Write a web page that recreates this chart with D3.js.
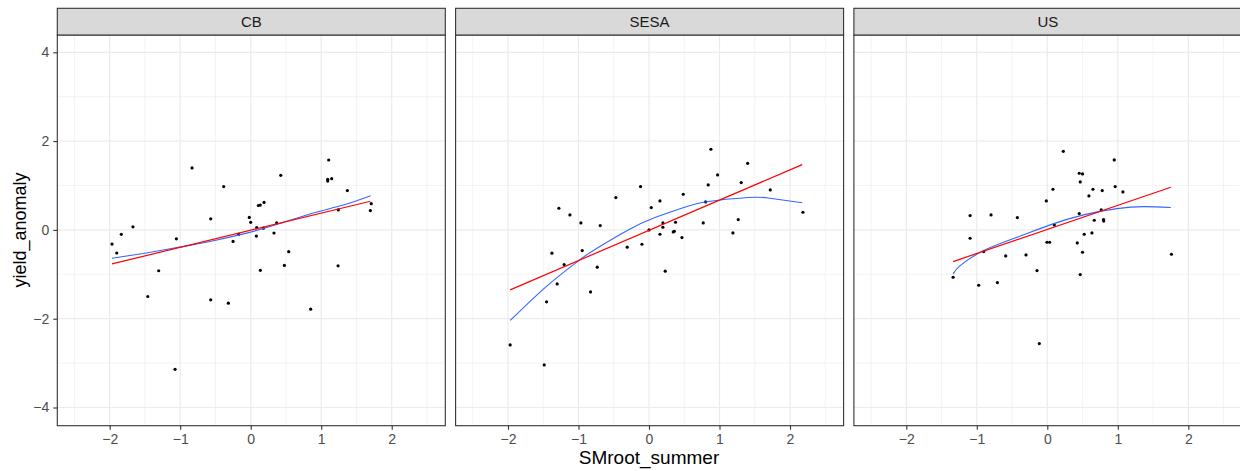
<!DOCTYPE html>
<html>
<head>
<meta charset="utf-8">
<script src="https://cdn.jsdelivr.net/npm/d3@7"></script>
<style>
  body { margin: 0; background: #fff; }
  svg { display: block; font-family: "Liberation Sans", Arial, sans-serif; }
</style>
</head>
<body>
<svg id="chart" width="1240" height="471"></svg>
<script>
// facet names
const facets = ["CB", "SESA", "US"];

// points
const cbX = [-1.967, -1.90, -1.835, -1.67, -1.46, -1.305, -1.073, -1.054, -0.832, -0.567, -0.567, -0.383, -0.317, -0.25, -0.17,
  -0.02, 0.0, 0.085, 0.08, 0.108, 0.136, 0.137, 0.189, 0.18, 0.33, 0.368, 0.426, 0.478, 0.539, 0.851,
  1.092, 1.092, 1.149, 1.106, 1.243, 1.239, 1.371, 1.697, 1.71];
const cbY = [-0.32, -0.52, -0.10, 0.07, -1.50, -0.92, -3.14, -0.20, 1.395, 0.25, -1.575, 0.975, -1.65, -0.26, -0.10,
  0.28, 0.17, 0.05, -0.14, 0.55, 0.56, -0.91, 0.62, 0.04, -0.07, 0.158, 1.23, -0.80, -0.49, -1.785,
  1.14, 1.10, 1.155, 1.575, 0.45, -0.81, 0.885, 0.435, 0.59];

const sesaX = [-1.969, -1.486, -1.453, -1.377, -1.302, -1.278, -1.203, -1.122, -0.966, -0.947, -0.829, -0.734, -0.692,
  -0.47, -0.309, -0.12, -0.10, 0.0, 0.032, 0.155, 0.155, 0.197, 0.197, 0.23, 0.344, 0.36, 0.377, 0.467, 0.486,
  0.769, 0.803, 0.84, 0.878, 0.973, 1.19, 1.266, 1.308, 1.399, 1.72, 2.183];
const sesaY = [-2.59, -3.04, -1.62, -0.525, -1.216, 0.488, -0.78, 0.338, 0.158, -0.465, -1.396, -0.84, 0.098,
  0.728, -0.39, 0.976, -0.323, 0.0, 0.503, 0.653, -0.098, 0.158, 0.06, -0.93, -0.045, -0.03, 0.173, -0.173, 0.803,
  0.158, 0.63, 1.013, 1.817, 1.239, -0.068, 0.233, 1.066, 1.50, 0.90, 0.398];

const usX = [-1.336, -1.095, -1.095, -0.973, -0.902, -0.798, -0.708, -0.59, -0.425, -0.302, -0.146, -0.113, -0.014,
  -0.005, 0.033, 0.08, 0.099, 0.227, 0.425, 0.453, 0.453, 0.5, 0.467, 0.467, 0.5, 0.524, 0.59, 0.633, 0.647,
  0.666, 0.765, 0.779, 0.798, 0.80, 0.949, 0.963, 1.072, 1.761];
const usY = [-1.066, 0.323, -0.188, -1.246, -0.488, 0.338, -1.186, -0.586, 0.278, -0.563, -0.916, -2.56, 0.653,
  -0.278, -0.278, 0.916, 0.113, 1.77, -0.293, 0.368, 1.276, 1.261, 1.081, -1.006, -0.503, -0.098, 0.766, -0.068, 0.916,
  0.218, 0.45, 0.886, 0.233, 0.20, 1.577, 0.976, 0.856, -0.548];

// blue smooth curves
const cbSmoothX = [-1.967, -1.523, -1.05, -0.577, -0.105, 0.368, 0.84, 1.313, 1.70];
const cbSmoothY = [-0.64, -0.53, -0.40, -0.26, -0.09, 0.12, 0.36, 0.56, 0.77];
const sesaSmoothX = [-1.969, -1.453, -1.004, -0.767, -0.295, 0.084, 0.462, 0.84, 1.407, 1.69, 2.173];
const sesaSmoothY = [-2.04, -1.27, -0.70, -0.44, 0.0, 0.28, 0.49, 0.64, 0.73, 0.72, 0.61];
const usSmoothX = [-1.336, -1.232, -0.902, -0.43, 0.042, 0.514, 0.987, 1.364, 1.752];
const usSmoothY = [-0.99, -0.80, -0.465, -0.165, 0.113, 0.338, 0.48, 0.525, 0.503];

// red linear fits (end points)
const cbLmX = [-1.967, 1.697], cbLmY = [-0.765, 0.645];
const sesaLmX = [-1.969, 2.173], sesaLmY = [-1.351, 1.471];
const usLmX = [-1.336, 1.752], usLmY = [-0.713, 0.961];

const xTicks = [-2, -1, 0, 1, 2];
const xMinor = [-2.5, -1.5, -0.5, 0.5, 1.5, 2.5];
const yTicks = [-4, -2, 0, 2, 4];
const yMinor = [-3, -1, 1, 3];

const panelData = [
  {pts: [cbX, cbY], smooth: [cbSmoothX, cbSmoothY], lm: [cbLmX, cbLmY]},
  {pts: [sesaX, sesaY], smooth: [sesaSmoothX, sesaSmoothY], lm: [sesaLmX, sesaLmY]},
  {pts: [usX, usY], smooth: [usSmoothX, usSmoothY], lm: [usLmX, usLmY]}
];

const left0 = 57.3, panelW = 388, gap = 10.3;
const stripTop = 8.3, panelTop = 35, panelBottom = 425.7;

const svg = d3.select("#chart");
const x = d3.scaleLinear().domain([-2.743, 2.76]).range([0, panelW]);
const y = d3.scaleLinear().domain([-4.41, 4.39]).range([panelBottom, panelTop]);

const zip = (a, b) => a.map((v, i) => [v, b[i]]);

facets.forEach((name, i) => {
  const g = svg.append("g").attr("transform", `translate(${left0 + i * (panelW + gap)},0)`);
  const d = panelData[i];

  // grid
  g.selectAll(".xminor").data(xMinor).join("line")
    .attr("x1", v => x(v)).attr("x2", v => x(v)).attr("y1", panelTop).attr("y2", panelBottom)
    .attr("stroke", "#ebebeb").attr("stroke-width", 0.6);
  g.selectAll(".yminor").data(yMinor).join("line")
    .attr("x1", 0).attr("x2", panelW).attr("y1", v => y(v)).attr("y2", v => y(v))
    .attr("stroke", "#ebebeb").attr("stroke-width", 0.6);
  g.selectAll(".xmajor").data(xTicks).join("line")
    .attr("x1", v => x(v)).attr("x2", v => x(v)).attr("y1", panelTop).attr("y2", panelBottom)
    .attr("stroke", "#ebebeb").attr("stroke-width", 1.2);
  g.selectAll(".ymajor").data(yTicks).join("line")
    .attr("x1", 0).attr("x2", panelW).attr("y1", v => y(v)).attr("y2", v => y(v))
    .attr("stroke", "#ebebeb").attr("stroke-width", 1.2);

  // points
  g.selectAll("circle").data(zip(d.pts[0], d.pts[1])).join("circle")
    .attr("cx", p => x(p[0])).attr("cy", p => y(p[1])).attr("r", 1.6).attr("fill", "#000");

  // smooth (blue) and linear (red) fits
  g.append("path").datum(zip(d.smooth[0], d.smooth[1]))
    .attr("d", d3.line().x(p => x(p[0])).y(p => y(p[1])).curve(d3.curveNatural))
    .attr("fill", "none").attr("stroke", "#3366ff").attr("stroke-width", 1.1);
  g.append("path").datum(zip(d.lm[0], d.lm[1]))
    .attr("d", d3.line().x(p => x(p[0])).y(p => y(p[1])))
    .attr("fill", "none").attr("stroke", "#ff0000").attr("stroke-width", 1.2);

  // panel border
  g.append("rect").attr("x", 0).attr("y", panelTop).attr("width", panelW).attr("height", panelBottom - panelTop)
    .attr("fill", "none").attr("stroke", "#333333").attr("stroke-width", 1.1);

  // strip
  g.append("rect").attr("x", 0).attr("y", stripTop).attr("width", panelW).attr("height", panelTop - stripTop)
    .attr("fill", "#d9d9d9").attr("stroke", "#333333").attr("stroke-width", 1.1);
  g.append("text").attr("x", panelW / 2).attr("y", (stripTop + panelTop) / 2)
    .attr("text-anchor", "middle").attr("dominant-baseline", "central")
    .attr("font-size", 15).attr("fill", "#1a1a1a").text(name);

  // x axis
  const xa = g.append("g").attr("transform", `translate(0,${panelBottom})`)
    .call(d3.axisBottom(x).tickValues(xTicks).tickSize(4).tickPadding(4).tickFormat(d3.format("d")));
  xa.select(".domain").remove();
  xa.selectAll("line").attr("stroke", "#333333").attr("stroke-width", 1.1);
  xa.selectAll("text").attr("fill", "#4d4d4d").attr("font-size", 14).style("font-family", "inherit");

  if (i === 0) {
    const ya = g.append("g")
      .call(d3.axisLeft(y).tickValues(yTicks).tickSize(4).tickPadding(4).tickFormat(d3.format("d")));
    ya.select(".domain").remove();
    ya.selectAll("line").attr("stroke", "#333333").attr("stroke-width", 1.1);
    ya.selectAll("text").attr("fill", "#4d4d4d").attr("font-size", 14).style("font-family", "inherit");
  }
});

// axis titles
svg.append("text").attr("x", 649).attr("y", 464).attr("text-anchor", "middle")
  .attr("font-size", 19).attr("fill", "#000").text("SMroot_summer");
svg.append("text").attr("transform", "translate(26,230) rotate(-90)").attr("text-anchor", "middle")
  .attr("font-size", 18).attr("fill", "#000").text("yield_anomaly");
</script>
</body>
</html>
